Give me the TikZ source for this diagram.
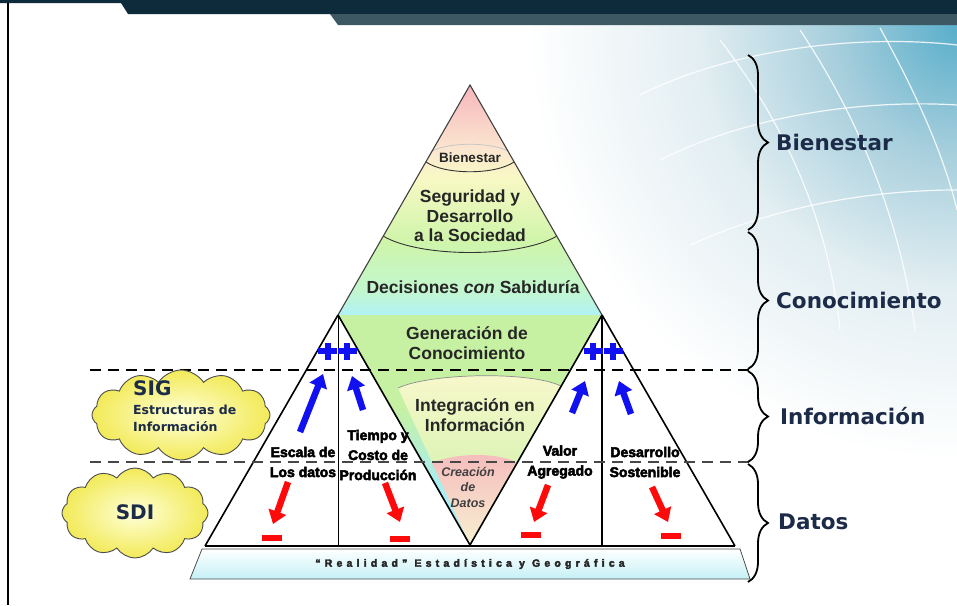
\documentclass[tikz,border=0pt]{standalone}
\usepackage{fontspec}
\setmainfont{Liberation Sans}
\newfontfamily\dvs{DejaVu Sans}
\newfontfamily\heavy[FakeBold=3.5]{Liberation Sans Bold}
\usetikzlibrary{shapes.symbols,arrows.meta,decorations.pathreplacing}
\definecolor{hdark}{HTML}{0E2B3B}
\definecolor{hmid}{HTML}{3D5862}
\definecolor{navy}{HTML}{1B2B48}
\definecolor{gl1}{HTML}{5AAFCB}
\definecolor{gl2}{HTML}{A6CEDC}
\definecolor{gl3}{HTML}{E2EEF2}
\definecolor{pkA}{HTML}{F7B6BC}
\definecolor{crA}{HTML}{FBE6D0}
\definecolor{yeA}{HTML}{F8F8C4}
\definecolor{grA}{HTML}{CFF5AA}
\definecolor{cgA}{HTML}{C2F6D0}
\definecolor{cyA}{HTML}{B0F2F6}
\definecolor{grB}{HTML}{C6F0A2}
\definecolor{cyB}{HTML}{A8EEF2}
\definecolor{yeB}{HTML}{F8F8CC}
\definecolor{pkB}{HTML}{F5BCBC}
\definecolor{crB}{HTML}{F8F0D2}
\definecolor{cloudin}{HTML}{FFFFD8}
\definecolor{cloudout}{HTML}{F2EA58}
\definecolor{bluA}{HTML}{1010F0}
\definecolor{redA}{HTML}{FF0A0A}
\definecolor{baseC}{HTML}{C4F0F6}
\pgfdeclareradialshading{glow}{\pgfpoint{0bp}{0bp}}{color(0bp)=(gl1); color(7bp)=(gl2); color(15bp)=(gl3); color(25bp)=(white); color(50bp)=(white)}
\pgfdeclareverticalshading{bigpyr}{100bp}{color(0bp)=(cyA); color(25bp)=(cyA); color(30bp)=(cgA); color(41bp)=(grA); color(55bp)=(yeA); color(61bp)=(crA); color(75bp)=(pkA); color(100bp)=(pkA)}
\pgfdeclareverticalshading{invtri}{100bp}{color(0bp)=(cyB); color(25bp)=(cyB); color(38bp)=(cyB); color(55bp)=(grB); color(75bp)=(grB); color(100bp)=(grB)}
\begin{document}
\begin{tikzpicture}[x=1pt,y=-1pt,
  globe/.style={white,line width=1.2pt,opacity=0.85},
  arcline/.style={black!80,line width=0.9pt},
  thinedge/.style={black!75,line width=1.1pt},
  bedge/.style={black,line width=1.6pt},
  dashA/.style={black,line width=2.4pt,dash pattern=on 11pt off 7pt},
  dashB/.style={black!72,line width=2.4pt,dash pattern=on 11pt off 7pt},
  ptext/.style={font=\bfseries\fontsize{17.5}{19.5}\selectfont,text=black!85,align=center,inner sep=0pt},
  tlabel/.style={font=\heavy\fontsize{14}{20}\selectfont,text=black,align=center,inner sep=0pt},
  rlabel/.style={font=\dvs\bfseries\fontsize{21.5}{24}\selectfont,text=navy,anchor=west,inner sep=0pt},
  cloudy/.style={cloud,cloud puffs=12,cloud puff arc=115,cloud ignores aspect,draw=black!70,line width=0.9pt,inner color=cloudin,outer color=cloudout},
  bracestyle/.style={decorate,decoration={brace,amplitude=20pt},line width=1.8pt},
  bluearr/.style={draw=bluA,line width=6.5pt,-{Triangle[width=18pt,length=13pt]}},
  redarr/.style={draw=redA,line width=6.5pt,-{Triangle[width=18pt,length=13pt]}}
]
\useasboundingbox (0,0) rectangle (957,605);
\fill[white] (0,0) rectangle (957,605);
% background glow
\begin{scope}
  \clip (10,25) rectangle (957,605);
  \shade[shading=glow] (957,30) circle (430);
  \draw[globe] (640,95) .. controls (740,45) and (870,35) .. (957,45);
  \draw[globe] (660,160) .. controls (760,110) and (880,100) .. (957,105);
  \draw[globe] (690,245) .. controls (790,200) and (890,190) .. (957,190);
  \draw[globe] (800,30) .. controls (860,120) and (900,220) .. (915,330);
  \draw[globe] (720,40) .. controls (790,130) and (830,230) .. (840,330);
  \draw[globe] (880,28) .. controls (920,100) and (945,160) .. (957,210);
\end{scope}
% header
\fill[hdark] (0,0) -- (957,0) -- (957,14) -- (128,14) -- (121,3) -- (0,3) -- cycle;
\fill[hmid] (330,14) -- (957,14) -- (957,25) -- (338,25) -- cycle;
\coordinate (bordT) at (8,3);
\coordinate (bordB) at (8,605);
\draw[line width=2.5pt] (bordT) -- (bordB);

% key points
\coordinate (A) at (470,85);
\coordinate (BL) at (338,315);
\coordinate (BR) at (602,315);
\coordinate (V) at (470,545);
\coordinate (LL) at (205,546);
\coordinate (RR) at (735,546);
\coordinate (BLb) at (338,546);
\coordinate (BRb) at (602,546);

% base trapezoid
\shade[top color=white,bottom color=baseC,draw=black!70,line width=0.8pt]
  (202,549) -- (740,549) -- (750,579) -- (190,579) -- cycle;
\node[font=\heavy\fontsize{10.5}{12}\selectfont\addfontfeature{LetterSpace=40},text=black!85,inner sep=0pt] (real) at (470,564) {“Realidad” Estadística y Geográfica};

% small triangles
\fill[white] (BL) -- (LL) -- (V) -- cycle;
\fill[white] (BR) -- (RR) -- (V) -- cycle;

% big pyramid
\shade[shading=bigpyr] (A) -- (BL) -- (BR) -- cycle;
\draw[gray!45,line width=0.8pt] (432,151) .. controls (450,142) and (490,142) .. (508,151);
\draw[arcline] (426,162) .. controls (445,175) and (495,175) .. (514,162);
\draw[arcline] (383,236) .. controls (420,258) and (520,258) .. (557,236);

% inverted triangle
\shade[shading=invtri] (BL) -- (BR) -- (V) -- cycle;
\shade[top color=yeB,bottom color=grB] (398,388) .. controls (430,373) and (530,371) .. (561,386) -- (V) -- cycle;
\draw[black!45,line width=0.7pt] (398,388) .. controls (430,373) and (530,371) .. (561,386);
\shade[top color=pkB,bottom color=crB] (432,463) .. controls (455,453) and (495,452) .. (516,462) -- (V) -- cycle;

% edges
\draw[thinedge] (BL) -- (A) -- (BR);
\draw[bedge] (BL) -- (V) -- (BR);
\draw[bedge] (BL) -- (LL);
\draw[bedge] (BR) -- (RR);
\draw[line width=1pt] (BL) -- (BLb);
\draw[line width=2.2pt] (BR) -- (BRb);
\draw[line width=2.8pt] (LL) -- (RR);

% dashed lines
\coordinate (d1a) at (90,370);
\coordinate (d1b) at (752,370);
\coordinate (d2a) at (90,462);
\coordinate (d2b) at (752,462);
\draw[dashA] (d1a) -- (d1b);
\draw[dashB] (d2a) -- (d2b);

% pyramid texts
\node[font=\bfseries\fontsize{13.5}{14}\selectfont,text=black!85,inner sep=0pt] (tBien) at (470,158) {Bienestar};
\node[ptext] (tSeg) at (470,216) {Seguridad y\\Desarrollo\\a la Sociedad};
\node[ptext] (tDec) at (473,287) {Decisiones \textit{con} Sabiduría};
\node[ptext] (tGen) at (467,343) {Generación de\\Conocimiento};
\node[ptext] (tInt) at (475,415) {Integración en\\Información};
\node[font=\bfseries\itshape\fontsize{12.5}{15.5}\selectfont,text=black!75,align=center,inner sep=0pt] (tCre) at (468,487) {Creación\\de\\Datos};

% triangle labels
\node[tlabel] (tEsc) at (303,462) {Escala de\\Los datos};
\node[tlabel] (tTie) at (378,455) {Tiempo y\\Costo de\\Producción};
\node[tlabel] (tVal) at (560,462) {Valor\\Agregado};
\node[tlabel] (tDes) at (645,462) {Desarrollo\\Sostenible};

% plus signs
\foreach \px in {327.5,347,593,613} {
  \fill[bluA] (\px-9.5,348) rectangle (\px+9.5,354);
  \fill[bluA] (\px-3,342.5) rectangle (\px+3,359.5);
}
% blue arrows
\coordinate (b1s) at (300,432); \coordinate (b1e) at (323,374);
\coordinate (b2s) at (363,410); \coordinate (b2e) at (352,376);
\coordinate (b3s) at (572,413); \coordinate (b3e) at (585,381);
\coordinate (b4s) at (631,414); \coordinate (b4e) at (619,381);
\draw[bluearr] (b1s) -- (b1e);
\draw[bluearr] (b2s) -- (b2e);
\draw[bluearr] (b3s) -- (b3e);
\draw[bluearr] (b4s) -- (b4e);
% red arrows
\coordinate (r1s) at (288,482); \coordinate (r1e) at (273,524);
\coordinate (r2s) at (385,483); \coordinate (r2e) at (400,522);
\coordinate (r3s) at (548,485); \coordinate (r3e) at (534,522);
\coordinate (r4s) at (652,487); \coordinate (r4e) at (668,522);
\draw[redarr] (r1s) -- (r1e);
\draw[redarr] (r2s) -- (r2e);
\draw[redarr] (r3s) -- (r3e);
\draw[redarr] (r4s) -- (r4e);
% minus bars
\foreach \mx/\my in {272/538,400/539,531/535,671/536} {
  \fill[redA] (\mx-10,\my-3) rectangle (\mx+10,\my+3);
}

% clouds
\node[cloudy,minimum width=178pt,minimum height=90pt] (sigC) at (181,415) {};
\node[cloudy,minimum width=146pt,minimum height=90pt] (sdiC) at (135,513) {};
\node[font=\dvs\bfseries\fontsize{20}{24}\selectfont,text=navy,anchor=west,inner sep=0pt] (tSIG) at (133,388) {SIG};
\node[font=\dvs\bfseries\fontsize{12.5}{17}\selectfont,text=navy,anchor=west,align=left,inner sep=0pt] (tEst) at (133,418) {Estructuras de\\Información};
\node[font=\dvs\bfseries\fontsize{20}{24}\selectfont,text=navy,inner sep=0pt] (tSDI) at (135,512) {SDI};

% braces
\coordinate (k1a) at (748,55);  \coordinate (k1b) at (748,230);
\coordinate (k2a) at (748,232); \coordinate (k2b) at (748,369);
\coordinate (k3a) at (748,371); \coordinate (k3b) at (748,462);
\coordinate (k4a) at (748,464); \coordinate (k4b) at (748,582);
\draw[bracestyle] (k1a) -- (k1b);
\draw[bracestyle] (k2a) -- (k2b);
\draw[bracestyle] (k3a) -- (k3b);
\draw[bracestyle] (k4a) -- (k4b);
\node[rlabel] (lB) at (776,142) {Bienestar};
\node[rlabel] (lC) at (776,300) {Conocimiento};
\node[rlabel] (lI) at (780,416) {Información};
\node[rlabel] (lD) at (778,522) {Datos};
\end{tikzpicture}
\end{document}
